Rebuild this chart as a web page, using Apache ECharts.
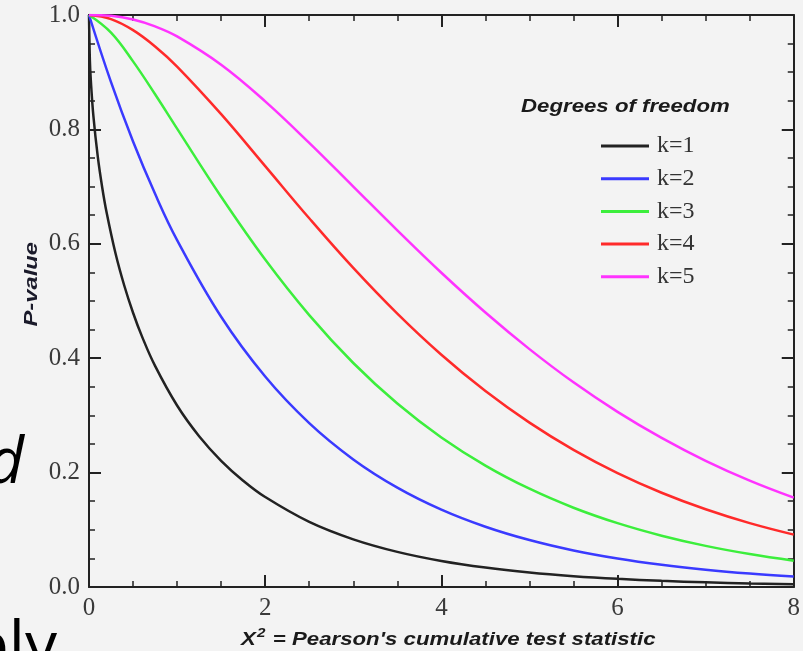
<!DOCTYPE html>
<html>
<head>
<meta charset="utf-8">
<script src="https://cdn.jsdelivr.net/npm/echarts@6/dist/echarts.min.js"></script>
<style>
html,body{margin:0;padding:0;background:#f3f3f3;}
#chart{width:803px;height:651px;}
</style>
</head>
<body>
<div id="chart"></div>
<script>
// Data (P-value vs chi-square statistic)
const xK1 = [0, 0.01, 0.02, 0.05, 0.1, 0.15, 0.2, 0.3, 0.4, 0.5, 0.6, 0.75, 1, 1.25, 1.5, 1.75, 2, 2.5, 3, 3.5, 4, 4.5, 5, 5.5, 6, 6.5, 7, 7.5, 8];
const k1 = [1, 0.9203, 0.8875, 0.8231, 0.7518, 0.6985, 0.6547, 0.5839, 0.5271, 0.4795, 0.4386, 0.3865, 0.3173, 0.2636, 0.2207, 0.1859, 0.1573, 0.1138, 0.0833, 0.0614, 0.0455, 0.0339, 0.0253, 0.0190, 0.0143, 0.0108, 0.0082, 0.0062, 0.0047];
const xOther = [0, 0.25, 0.5, 0.75, 1, 1.5, 2, 2.5, 3, 3.5, 4, 4.5, 5, 5.5, 6, 6.5, 7, 7.5, 8];
const k2 = [1, 0.8825, 0.7788, 0.6873, 0.6065, 0.4724, 0.3679, 0.2865, 0.2231, 0.1738, 0.1353, 0.1054, 0.0821, 0.0639, 0.0498, 0.0388, 0.0302, 0.0235, 0.0183];
const k3 = [1, 0.9692, 0.9189, 0.8614, 0.8013, 0.6823, 0.5724, 0.4753, 0.3916, 0.3208, 0.2615, 0.2123, 0.1718, 0.1386, 0.1116, 0.0897, 0.0719, 0.0576, 0.0460];
const k4 = [1, 0.9928, 0.9735, 0.9450, 0.9098, 0.8266, 0.7358, 0.6446, 0.5578, 0.4779, 0.4060, 0.3425, 0.2873, 0.2397, 0.1991, 0.1648, 0.1359, 0.1117, 0.0916];
const k5 = [1, 0.9985, 0.9921, 0.9801, 0.9626, 0.9131, 0.8491, 0.7765, 0.7000, 0.6235, 0.5494, 0.4799, 0.4159, 0.3578, 0.3062, 0.2607, 0.2206, 0.1860, 0.1562];
const seriesNames = ['k=1', 'k=2', 'k=3', 'k=4', 'k=5'];
const xTickLabels = ['0', '2', '4', '6', '8'];
const yTickLabels = ['0.0', '0.2', '0.4', '0.6', '0.8', '1.0'];
const xTitleMain = 'Χ';
const xTitleSup = '2';
const xTitleRest = ' = Pearson\'s cumulative test statistic';
const yTitle = 'P-value';
const legendTitle = 'Degrees of freedom';

const colors = ['#222222', '#3a3aff', '#3cee3c', '#ff2a2a', '#ff33ff'];
const zip = (xs, ys) => xs.map((x, i) => [x, ys[i]]);
const seriesData = [zip(xK1, k1), zip(xOther, k2), zip(xOther, k3), zip(xOther, k4), zip(xOther, k5)];

const serif = '"Liberation Serif", "Times New Roman", serif';
const sans = '"Liberation Sans", Arial, sans-serif';
const axisLine = {show: true, onZero: false, lineStyle: {color: '#222', width: 2}};
const tick = {show: true, inside: true, length: 12, lineStyle: {color: '#222', width: 2}};
const minor = {show: true, splitNumber: 4, length: 6, lineStyle: {color: '#222', width: 1.5}};

const chart = echarts.init(document.getElementById('chart'), null, {renderer: 'canvas'});
chart.setOption({
  backgroundColor: '#f3f3f3',
  animation: false,
  grid: {left: 89, right: 8, top: 15, bottom: 64, containLabel: false},
  xAxis: [
    {type: 'value', position: 'bottom', min: 0, max: 8, interval: 2,
     axisLine, axisTick: tick, minorTick: minor, splitLine: {show: false},
     axisLabel: {margin: 9, fontFamily: serif, fontSize: 25, color: '#3a3a3a',
       formatter: v => xTickLabels[Math.round(v / 2)]}},
    {type: 'value', position: 'top', min: 0, max: 8, interval: 2,
     axisLine, axisTick: tick, minorTick: minor, splitLine: {show: false},
     axisLabel: {show: false}}
  ],
  yAxis: [
    {type: 'value', position: 'left', min: 0, max: 1, interval: 0.2,
     axisLine, axisTick: tick, minorTick: minor, splitLine: {show: false},
     axisLabel: {margin: 9, fontFamily: serif, fontSize: 25, color: '#3a3a3a',
       formatter: v => yTickLabels[Math.round(v / 0.2)]}},
    {type: 'value', position: 'right', min: 0, max: 1, interval: 0.2,
     axisLine, axisTick: tick, minorTick: minor, splitLine: {show: false},
     axisLabel: {show: false}}
  ],
  legend: {
    orient: 'vertical', left: 596, top: 129, itemWidth: 48, itemHeight: 3, itemGap: 8.7,
    icon: 'rect', data: seriesNames,
    textStyle: {fontFamily: serif, fontSize: 24, color: '#333', padding: [0, 0, 0, 3]}
  },
  graphic: [
    {type: 'text', x: 521, y: 97, scaleX: 1.17,
     style: {text: legendTitle, font: 'italic bold 19px ' + sans, fill: '#1a1a1a'}},
    {type: 'text', x: 241, y: 627, scaleX: 1.17,
     style: {text: '{m|' + xTitleMain + '}{s|' + xTitleSup + '}{m|' + xTitleRest + '}',
       rich: {
         m: {font: 'italic bold 19px ' + sans, fill: '#1a1a1a', verticalAlign: 'bottom', lineHeight: 22},
         s: {font: 'italic bold 13px ' + sans, fill: '#1a1a1a', verticalAlign: 'top', lineHeight: 22, padding: [0, 1, 0, 1]}
       }}},
    {type: 'text', x: 22, y: 242, rotation: Math.PI / 2, scaleX: 1.25,
     style: {text: yTitle, font: 'italic bold 19px ' + sans, fill: '#1a1a2a', align: 'right', verticalAlign: 'top'}},
    {type: 'text', x: 24, y: 433, style: {text: 'd', font: 'italic 64px "Open Sans", sans-serif', fill: '#000', align: 'right', verticalAlign: 'top'}},
    {type: 'text', x: 57, y: 617, style: {text: 'ply', font: '64px "Open Sans", sans-serif', fill: '#000', align: 'right', verticalAlign: 'top'}}
  ],
  series: seriesNames.map((name, i) => ({
    name, type: 'line', data: seriesData[i], smooth: 0.4, showSymbol: false,
    xAxisIndex: 0, yAxisIndex: 0, color: colors[i],
    lineStyle: {color: colors[i], width: 2.5}
  }))
});
</script>
</body>
</html>
